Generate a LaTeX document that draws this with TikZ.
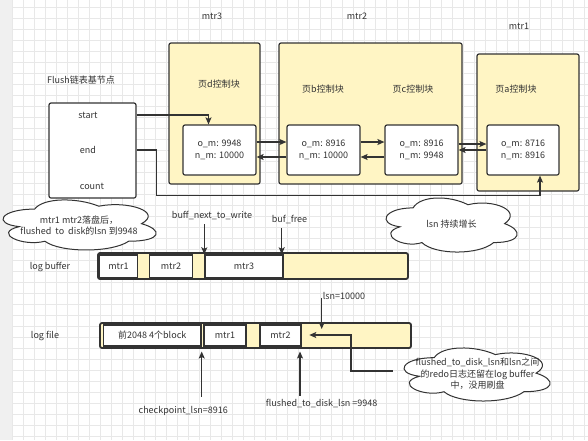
\documentclass[tikz,border=0pt]{standalone}
\usepackage{fontspec}
\setmainfont{Noto Sans CJK SC}
\usetikzlibrary{arrows.meta,calc}
\definecolor{ylw}{HTML}{FFF5C4}
\definecolor{edge}{HTML}{333333}
\definecolor{txt}{HTML}{333333}
\definecolor{gridc}{HTML}{E8E8E8}
\definecolor{strip}{HTML}{F0F0F0}
\tikzset{
  base/.style={font=\fontsize{9}{11.5}\selectfont, text=txt, inner sep=0pt},
  lbl/.style={base},
  grpbox/.style={base, draw=edge, fill=ylw, line width=1.2pt, rounded corners=2pt},
  wbox/.style={base, draw=edge, fill=white, line width=1.2pt, rounded corners=2pt, align=center},
  barbox/.style={base, draw=edge, fill=ylw, line width=1.8pt, rounded corners=2pt},
  seg/.style={base, draw=edge, fill=white, line width=1.4pt},
  arr/.style={draw=edge, line width=1.2pt, -{Stealth[length=7pt,width=6pt,inset=1.5pt]}},
  cloudline/.style={draw=edge, fill=white, line width=1pt},
  cloudtxt/.style={base, align=center},
}
% draw.io style cloud: #1,#2 = top-left corner, #3 = width, #4 = height
\newcommand{\mxcloud}[4]{%
  \draw[cloudline]
    ({#1+0.25*#3},{#2+0.25*#4})
    .. controls ({#1+0.05*#3},{#2+0.25*#4}) and ({#1},{#2+0.5*#4}) .. ({#1+0.16*#3},{#2+0.55*#4})
    .. controls ({#1},{#2+0.66*#4}) and ({#1+0.18*#3},{#2+0.9*#4}) .. ({#1+0.31*#3},{#2+0.8*#4})
    .. controls ({#1+0.4*#3},{#2+#4}) and ({#1+0.7*#3},{#2+#4}) .. ({#1+0.8*#3},{#2+0.8*#4})
    .. controls ({#1+#3},{#2+0.8*#4}) and ({#1+#3},{#2+0.6*#4}) .. ({#1+0.875*#3},{#2+0.5*#4})
    .. controls ({#1+#3},{#2+0.3*#4}) and ({#1+0.8*#3},{#2+0.1*#4}) .. ({#1+0.625*#3},{#2+0.2*#4})
    .. controls ({#1+0.5*#3},{#2+0.05*#4}) and ({#1+0.3*#3},{#2+0.05*#4}) .. ({#1+0.25*#3},{#2+0.25*#4})
    -- cycle;}
\begin{document}
\begin{tikzpicture}[x=1pt,y=-1pt]
\useasboundingbox (0,0) rectangle (588,440);
\fill[white] (0,0) rectangle (588,440);
\fill[strip] (0,0) rectangle (12,440);
\foreach \i in {0,...,52} {\draw[gridc, line width=0.6pt] ({12.3+11*\i},0) -- ({12.3+11*\i},440);}
\foreach \j in {0,...,39} {\draw[gridc, line width=0.6pt] (12,{7.3+11*\j}) -- (588,{7.3+11*\j});}

% labels
\node[lbl] (t3) at (212,16) {mtr3};
\node[lbl] (t2) at (357,16) {mtr2};
\node[lbl] (t1) at (519,26) {mtr1};
\node[lbl] (tf) at (81,80) {Flush链表基节点};

% group boxes
\node[grpbox, minimum width=91, minimum height=141] (g3) at (214.5,113.5) {};
\node[grpbox, minimum width=183, minimum height=141] (g2) at (370.5,113.5) {};
\node[grpbox, minimum width=102, minimum height=137] (g1) at (528,122.5) {};
\node[lbl] (pd) at (219,84) {页d控制块};
\node[lbl] (pb) at (323,89) {页b控制块};
\node[lbl] (pc) at (413,89) {页c控制块};
\node[lbl] (pa) at (516,89) {页a控制块};

% inner boxes
\node[wbox, minimum width=73, minimum height=50] (d) at (219.5,150) {o\_m: 9948\\n\_m: 10000};
\node[wbox, minimum width=73, minimum height=50] (b) at (323.5,150) {o\_m: 8916\\n\_m: 10000};
\node[wbox, minimum width=73, minimum height=50] (c) at (421.5,150) {o\_m: 8916\\n\_m: 9948};
\node[wbox, minimum width=72, minimum height=50] (a) at (523,150) {o\_m: 8716\\n\_m: 8916};

% flush base node
\node[wbox, minimum width=87, minimum height=95] (fl) at (92.5,150.5) {};
\node[lbl] (fs) at (88,115) {start};
\node[lbl] (fe) at (88,150) {end};
\node[lbl] (fc) at (92,186) {count};

% list connectors
\draw[arr] ([yshift=8pt]d.east) -- ([yshift=8pt]b.west);
\draw[arr] ([yshift=-7pt]b.west) -- ([yshift=-7pt]d.east);
\draw[arr] ([yshift=8pt]b.east) -- ([yshift=8pt]c.west);
\draw[arr] ([yshift=-7pt]c.west) -- ([yshift=-7pt]b.east);
\draw[arr] ([yshift=6pt]c.east) -- ([yshift=6pt]a.west);
\draw[arr] ([yshift=0pt]a.west) -- ([yshift=0pt]c.east);
\draw[arr] (fl.east |- fs) -| ([xshift=-11pt]d.north);
\draw[arr] (fl.east |- fe) -- (156.7,150) -- (156.7,195.7) -| ([xshift=17pt]a.south);

% clouds
\mxcloud{-8.1}{194.5}{171}{58.4}
\node[cloudtxt] (c1t) at (79,225.5) {mtr1 mtr2落盘后，\\flushed\ \ to\ \ disk的lsn 到9948};
\mxcloud{376.5}{192.1}{146.4}{63.1}
\node[cloudtxt] (c2t) at (451.5,224) {lsn 持续增长};
\mxcloud{393.4}{342.2}{163.1}{61.9}
\node[cloudtxt] (c3t) at (477.5,374) {flushed\_to\_disk\_lsn和lsn之间\\的redo日志还留在log buffer\\中，没用刷盘};
\coordinate (c3w) at (392.5,371);

% log buffer
\node[lbl] (llb) at (50,267) {log buffer};
\node[barbox, minimum width=310, minimum height=26] (lb) at (253,266) {};
\node[seg, minimum width=38, minimum height=23] (lb1) at (118.5,266.5) {mtr1};
\node[seg, minimum width=43, minimum height=23] (lb2) at (171,266.5) {mtr2};
\node[seg, minimum width=78, minimum height=23] (lb3) at (244,266.5) {mtr3};
\node[lbl] (bnw) at (212,215) {buff\_next\_to\_write};
\node[lbl] (bfr) at (289.5,219) {buf\_free};
\draw[arr] ([yshift=-5pt]bnw.south -| lb3.west) -- (lb3.north west);
\draw[arr] ([xshift=-2pt, yshift=-5pt]lb3.east |- bfr.south) -- ([xshift=-2pt]lb3.north east);

% log file
\node[lbl] (llf) at (45,336) {log file};
\node[barbox, minimum width=311, minimum height=25] (lf) at (255.5,335.5) {};
\node[seg, minimum width=97.5, minimum height=21] (lf0) at (152.25,335.5) {前2048 4个block};
\node[seg, minimum width=41.7, minimum height=21] (lf1) at (225,335.5) {mtr1};
\node[seg, minimum width=41, minimum height=21] (lf2) at (280.5,335.5) {mtr2};
\node[lbl] (lsn) at (344,296) {lsn=10000};
\coordinate (lsnA) at (321.7,298);
\coordinate (lsnB) at (321.7,329);
\draw[arr] (lsnA) -- (lsnB);
\coordinate (c3in) at (309.3,335);
\draw[arr] (c3w) -- (351,371) -- (351,335) -- (c3in);
\node[lbl] (ck) at (183.3,411) {checkpoint\_lsn=8916};
\node[lbl] (ftd) at (321.7,403.3) {flushed\_to\_disk\_lsn =9948};
\coordinate (ckA) at (201.7,396.7);
\coordinate (ckB) at (201.7,351.5);
\draw[arr] (ckA) -- (ckB);
\coordinate (fdA) at (300,395.7);
\coordinate (fdB) at (300,351.5);
\draw[arr] (fdA) -- (fdB);
\end{tikzpicture}
\end{document}
